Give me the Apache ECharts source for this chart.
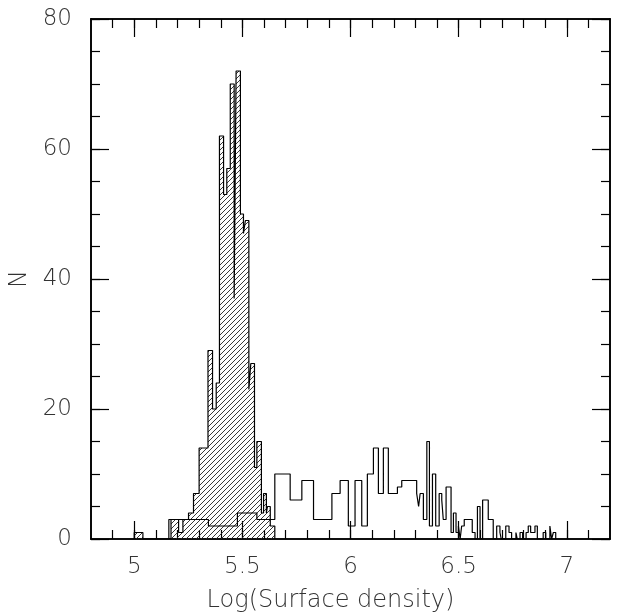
<!DOCTYPE html>
<html>
<head>
<meta charset="utf-8">
<script src="https://cdn.jsdelivr.net/npm/echarts@6/dist/echarts.min.js"></script>
<style>
html,body{margin:0;padding:0;background:#fff;}
#chart{width:632px;height:616px;}
</style>
</head>
<body>
<div id="chart"></div>
<script>
// ---- data (bin edges in log surface density, counts N) ----
const hatchEdges = [5.00, 5.04, 5.17, 5.205, 5.225, 5.251, 5.274, 5.30, 5.341, 5.362, 5.379, 5.394, 5.413, 5.428, 5.444, 5.462, 5.471, 5.491, 5.505, 5.514, 5.53, 5.539, 5.556, 5.567, 5.588, 5.598, 5.611, 5.616, 5.629, 5.65];
const hatchCounts = [1, 0, 3, 1, 3, 4, 7, 14, 29, 20, 24, 62, 53, 57, 70, 37, 72, 50, 47, 49, 23, 27, 11, 15, 4, 7, 4, 5, 2];

const openEdges = [5.16, 5.343, 5.477, 5.567, 5.65, 5.721, 5.775, 5.829, 5.914, 5.952, 5.990, 6.021, 6.052, 6.078, 6.106, 6.129, 6.152, 6.175, 6.217, 6.237, 6.306, 6.315, 6.322, 6.337, 6.353, 6.365, 6.379, 6.394, 6.410, 6.422, 6.429, 6.442, 6.465, 6.476, 6.488, 6.499, 6.507, 6.514, 6.526, 6.563, 6.576, 6.587, 6.599, 6.611, 6.637, 6.660, 6.676, 6.691, 6.697, 6.718, 6.733, 6.745, 6.765, 6.771, 6.784, 6.796, 6.812, 6.822, 6.833, 6.853, 6.864, 6.891, 6.903, 6.922, 6.930, 6.938, 6.949];
const openCounts = [3, 2, 4, 3, 10, 6, 9, 3, 7, 9, 2, 9, 2, 10, 14, 7, 14, 7, 8, 9, 7, 5, 7, 3, 15, 2, 10, 2, 7, 6, 3, 8, 1, 4, 1, 2, 0, 2, 3, 1, 0, 5, 0, 6, 3, 0, 2, 1, 0, 2, 1, 0, 1, 0, 1, 0, 1, 2, 1, 2, 0, 1, 0, 2, 0, 1];

// ---- axis ticks ----
const xMajor = [5, 5.5, 6, 6.5, 7];
const yMajor = [0, 20, 40, 60, 80];
const xMinor = [];
for (let i = 49; i <= 71; i++) xMinor.push(i / 10);
const yMinor = [];
for (let v = 0; v <= 80; v += 5) yMinor.push(v);

function stepPoints(edges, counts) {
  const pts = [[edges[0], 0]];
  for (let i = 0; i < counts.length; i++) {
    pts.push([edges[i], counts[i]]);
    pts.push([edges[i + 1], counts[i]]);
  }
  pts.push([edges[edges.length - 1], 0]);
  return pts;
}

function makeHatch() {
  const s = 5;
  const c = document.createElement('canvas');
  c.width = s; c.height = s;
  const g = c.getContext('2d');
  g.strokeStyle = '#222';
  g.lineWidth = 0.9;
  g.beginPath();
  g.moveTo(0, s); g.lineTo(s, 0);
  g.moveTo(-1, 1); g.lineTo(1, -1);
  g.moveTo(s - 1, s + 1); g.lineTo(s + 1, s - 1);
  g.stroke();
  return c;
}

const FONT = 'DejaVu Sans';
const lineCol = '#000';
const tickStyle = {fontFamily: FONT, fontSize: 23, color: '#333', fontWeight: 'lighter'};
const xNameStyle = {fontFamily: FONT, fontSize: 24, color: '#333', fontWeight: 'lighter', padding: [0, 40, 0, 0]};
const yNameStyle = {fontFamily: FONT, fontSize: 24, color: '#333', fontWeight: 'lighter'};

function xAx(pos, ticks, len, withLabel) {
  return {
    type: 'value', min: 4.8, max: 7.2, position: pos, gridIndex: 0,
    axisLine: {show: true, onZero: false, lineStyle: {color: lineCol, width: 1.6}},
    axisTick: {show: true, inside: true, length: len, customValues: ticks, lineStyle: {color: lineCol, width: 1.2}},
    axisLabel: withLabel ? Object.assign({show: true, customValues: xMajor, margin: 17, formatter: v => String(v)}, tickStyle) : {show: false},
    splitLine: {show: false},
    name: withLabel ? 'Log(Surface density)' : '',
    nameLocation: 'middle', nameGap: 50,
    nameTextStyle: xNameStyle
  };
}
function yAx(pos, ticks, len, withLabel) {
  return {
    type: 'value', min: 0, max: 80, position: pos, gridIndex: 0,
    axisLine: {show: true, onZero: false, lineStyle: {color: lineCol, width: 1.6}},
    axisTick: {show: true, inside: true, length: len, customValues: ticks, lineStyle: {color: lineCol, width: 1.2}},
    axisLabel: withLabel ? Object.assign({show: true, customValues: yMajor, margin: 19}, tickStyle) : {show: false},
    splitLine: {show: false},
    name: withLabel ? 'N' : '',
    nameLocation: 'middle', nameGap: 47, nameRotate: 90,
    nameTextStyle: yNameStyle
  };
}

const chart = echarts.init(document.getElementById('chart'), null, {renderer: 'canvas'});
chart.setOption({
  animation: false,
  backgroundColor: '#fff',
  grid: {left: 91, top: 19, width: 519, height: 520, containLabel: false, outerBoundsMode: 'none'},
  xAxis: [
    xAx('bottom', xMinor, 9, true),
    xAx('bottom', xMajor, 18, false),
    xAx('top', xMinor, 9, false),
    xAx('top', xMajor, 18, false)
  ],
  yAxis: [
    yAx('left', yMinor, 9, true),
    yAx('left', yMajor, 18, false),
    yAx('right', yMinor, 9, false),
    yAx('right', yMajor, 18, false)
  ],
  series: [
    {
      type: 'line', xAxisIndex: 0, yAxisIndex: 0,
      data: stepPoints(hatchEdges, hatchCounts),
      symbol: 'none', clip: true,
      lineStyle: {color: lineCol, width: 1.2},
      areaStyle: {color: {image: makeHatch(), repeat: 'repeat'}, opacity: 1},
      z: 2
    },
    {
      type: 'line', xAxisIndex: 0, yAxisIndex: 0,
      data: stepPoints(openEdges, openCounts),
      symbol: 'none', clip: true,
      lineStyle: {color: lineCol, width: 1.2},
      z: 3
    }
  ]
});
</script>
</body>
</html>
